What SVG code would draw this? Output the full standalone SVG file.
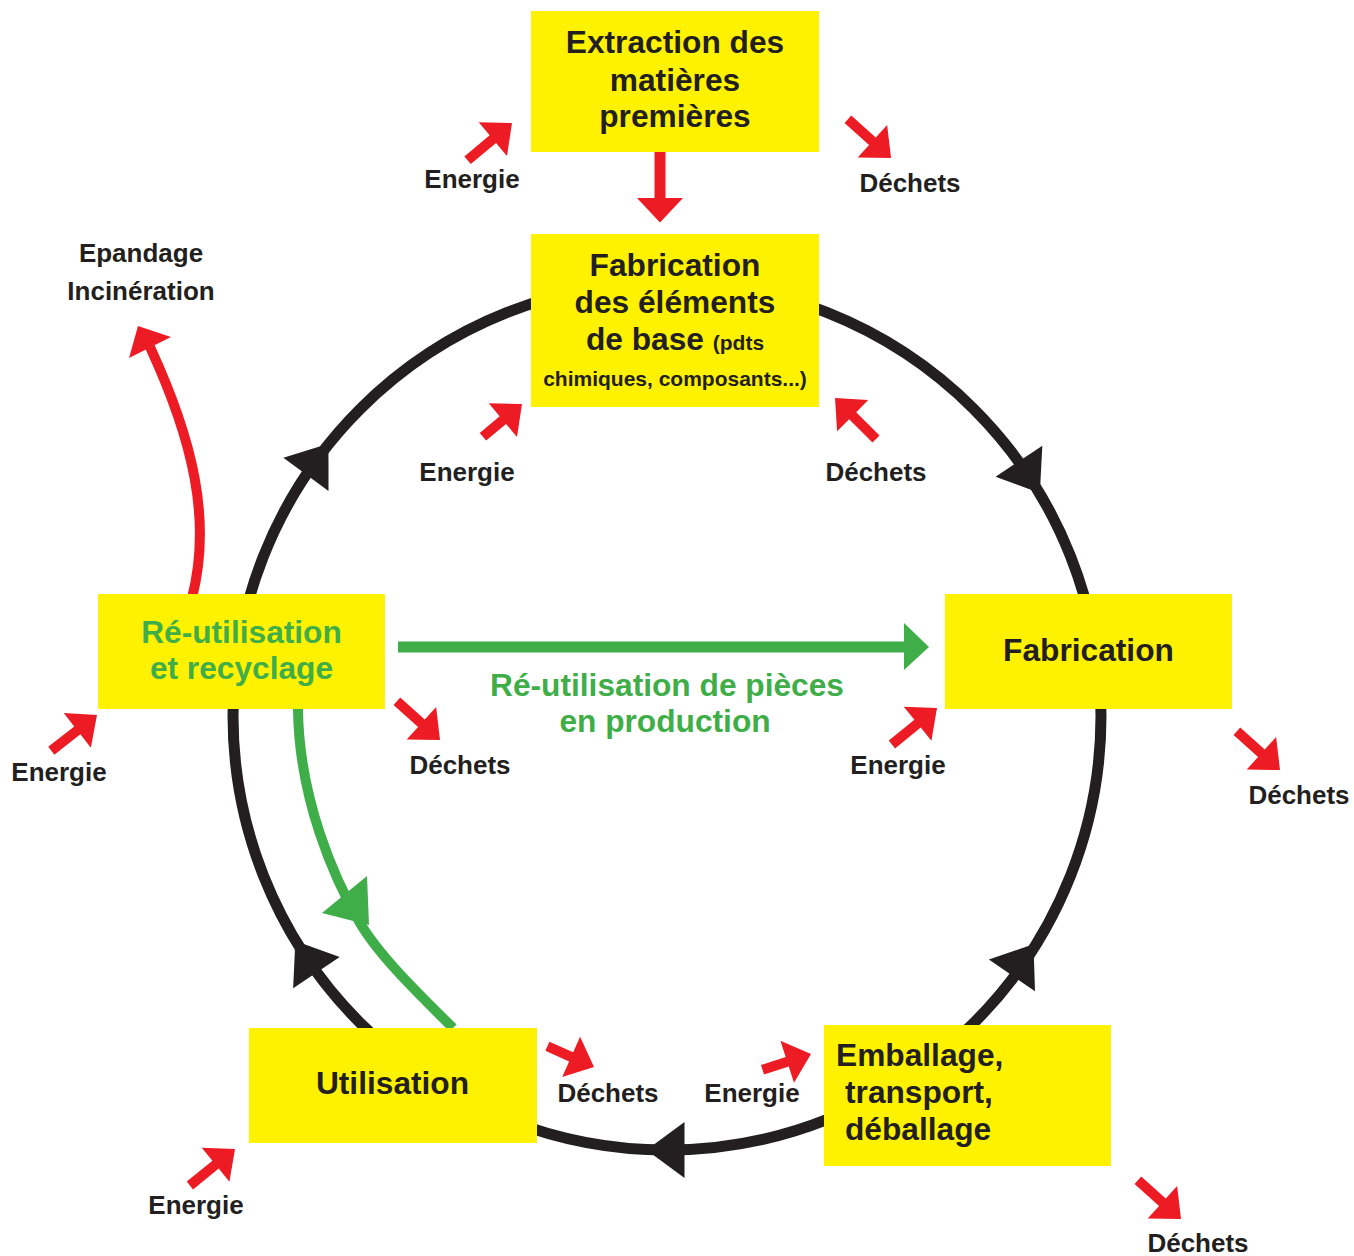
<svg xmlns="http://www.w3.org/2000/svg" xmlns:xlink="http://www.w3.org/1999/xlink" width="1354" height="1256" viewBox="0 0 1354 1256">
<style>
.box{fill:#fff200}
.t{font-family:"Liberation Sans",Arial,sans-serif;font-weight:bold;font-size:31.7px;fill:#231f20;text-anchor:middle}
.st{text-anchor:start}
.sm{font-size:21px}
.g{fill:#3fae49}
.lb{font-family:"Liberation Sans",Arial,sans-serif;font-weight:bold;font-size:26px;fill:#231f20;text-anchor:middle}
.red{fill:#ed1c24}
.blk{fill:#231f20}
</style>
<defs>
<path id="ra" d="M0,0 L-25,-22 L-25,-5 L-58,-5 L-58,5 L-25,5 L-25,22 Z"/>
<path id="rs" d="M0,0 L-25,-22 L-25,-5 L-51,-5 L-51,5 L-25,5 L-25,22 Z"/>
<path id="bh" d="M19,0 L-19,-28 L-19,28 Z"/>
</defs>
<rect width="1354" height="1256" fill="#ffffff"/>
<g id="connectors">
<circle cx="667" cy="716" r="434" fill="none" stroke="#231f20" stroke-width="11"/>
<g class="blk">
<use xlink:href="#bh" href="#bh" transform="translate(317.2,459.1) rotate(306.3)"/>
<use xlink:href="#bh" href="#bh" transform="translate(1029.4,477.1) rotate(56.6)"/>
<use xlink:href="#bh" href="#bh" transform="translate(1022.7,959.8) rotate(-55.5)"/>
<use xlink:href="#bh" href="#bh" transform="translate(665.5,1150) rotate(180)"/>
<use xlink:href="#bh" href="#bh" transform="translate(305.9,956.8) rotate(236.3)"/>
</g>
<path d="M298,709 C299,800 335,880 360,923 C380,957 420,995 453,1028" fill="none" stroke="#3fae49" stroke-width="10"/>
<polygon points="369,925 322,913 367,876" fill="#3fae49"/>
<line x1="398" y1="647" x2="906" y2="647" stroke="#3fae49" stroke-width="11"/>
<polygon points="904,623 929,647 904,670" fill="#3fae49"/>
<path d="M192,598 C212,520 193,440 150,347" fill="none" stroke="#ed1c24" stroke-width="10"/>
<polygon points="138,326 171,337 129,358" fill="#ed1c24"/>
<path d="M654.5,152 H665.5 V198 H683 L660,222.5 L637,198 H654.5 Z" fill="#ed1c24"/>
<g class="red">
<use xlink:href="#ra" href="#ra" transform="translate(512,123) rotate(-40)"/>
<use xlink:href="#ra" href="#ra" transform="translate(891,158) rotate(42)"/>
<use xlink:href="#rs" href="#rs" transform="translate(522,404) rotate(-40)"/>
<use xlink:href="#ra" href="#ra" transform="translate(835,398) rotate(-135)"/>
<use xlink:href="#ra" href="#ra" transform="translate(97,715) rotate(-38)"/>
<use xlink:href="#ra" href="#ra" transform="translate(440,740) rotate(42)"/>
<use xlink:href="#ra" href="#ra" transform="translate(937,708) rotate(-39)"/>
<use xlink:href="#ra" href="#ra" transform="translate(1280,770) rotate(42)"/>
<use xlink:href="#ra" href="#ra" transform="translate(235,1149) rotate(-39)"/>
<use xlink:href="#rs" href="#rs" transform="translate(594,1067) rotate(24)"/>
<use xlink:href="#rs" href="#rs" transform="translate(811,1054) rotate(-18)"/>
<use xlink:href="#ra" href="#ra" transform="translate(1181,1219) rotate(42)"/>
</g>
<g id="labels">
<text class="lb" x="472" y="188">Energie</text>
<text class="lb" x="910" y="192">Déchets</text>
<text class="lb" x="141" y="262">Epandage</text>
<text class="lb" x="141" y="300">Incinération</text>
<text class="lb" x="467" y="481">Energie</text>
<text class="lb" x="876" y="481">Déchets</text>
<text class="lb" x="59" y="781">Energie</text>
<text class="lb" x="460" y="774">Déchets</text>
<text class="lb" x="898" y="774">Energie</text>
<text class="lb" x="1299" y="804">Déchets</text>
<text class="lb" x="196" y="1214">Energie</text>
<text class="lb" x="608" y="1102">Déchets</text>
<text class="lb" x="752" y="1102">Energie</text>
<text class="lb" x="1198" y="1252">Déchets</text>
<text class="t g" x="667" y="696">Ré-utilisation de pièces</text>
<text class="t g" x="665" y="732">en production</text>
</g>
</g>
<g id="node-extraction">
<rect class="box" x="531" y="11" width="288" height="141"/>
<text class="t" x="675" y="53">Extraction des</text>
<text class="t" x="675" y="90.5">matières</text>
<text class="t" x="675" y="127">premières</text>
</g>
<g id="node-fab-elements">
<rect class="box" x="531" y="234" width="288" height="173"/>
<text class="t" x="675" y="276">Fabrication</text>
<text class="t" x="675" y="313">des éléments</text>
<text class="t" x="675" y="350">de base <tspan class="sm">(pdts</tspan></text>
<text class="t sm" x="675" y="386">chimiques, composants...)</text>
</g>
<g id="node-reutilisation">
<rect class="box" x="98" y="594" width="287" height="115"/>
<text class="t g" x="241.5" y="642.5">Ré-utilisation</text>
<text class="t g" x="241.5" y="679">et recyclage</text>
</g>
<g id="node-fabrication">
<rect class="box" x="945" y="594" width="287" height="115"/>
<text class="t" x="1088.5" y="661">Fabrication</text>
</g>
<g id="node-utilisation">
<rect class="box" x="249" y="1028" width="288" height="115"/>
<text class="t" x="392.5" y="1094">Utilisation</text>
</g>
<g id="node-emballage">
<rect class="box" x="824" y="1025" width="287" height="141"/>
<text class="t st" x="836" y="1066">Emballage,</text>
<text class="t st" x="845" y="1103">transport,</text>
<text class="t st" x="845" y="1140">déballage</text>
</g>
</svg>
